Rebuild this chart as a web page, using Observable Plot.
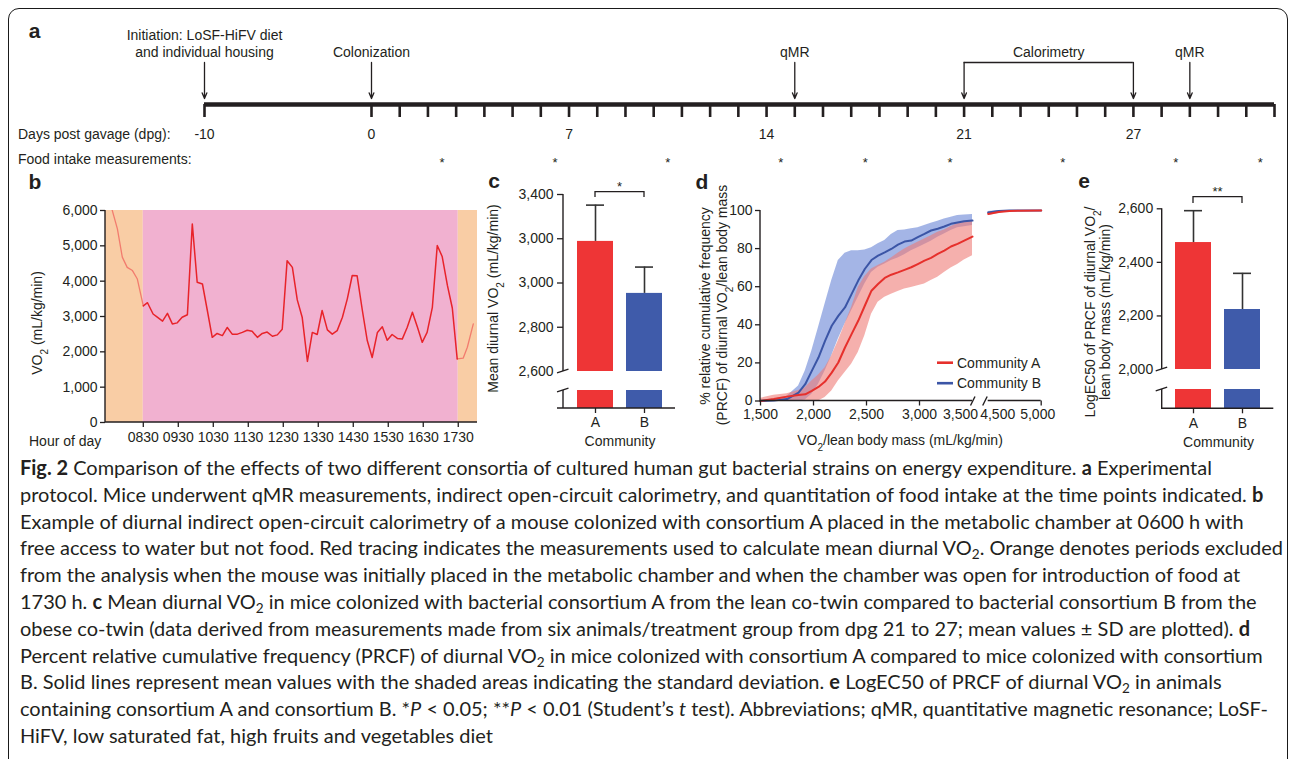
<!DOCTYPE html>
<html>
<head>
<meta charset="utf-8">
<script src="https://cdn.jsdelivr.net/npm/d3@7"></script>
<script src="https://cdn.jsdelivr.net/npm/@observablehq/plot@0.6"></script>
<style>
html, body { margin: 0; padding: 0; background: #fff; }
body { width: 1290px; height: 759px; overflow: hidden; position: relative; color: #231f20; }
#frame { position: absolute; left: 8px; top: 8px; width: 1280px; height: 900px; border: 1.5px solid #1a1a1a; border-radius: 11px; box-sizing: border-box; }
.panel { position: absolute; }
.panel svg { display: block; }
#caption { position: absolute; left: 20px; top: 454px; font-family: Lato, "Open Sans", sans-serif; font-size: 17px; line-height: 26.8px; white-space: nowrap; color: #231f20; }
#caption sub { font-size: 0.68em; vertical-align: -0.3em; line-height: 0; }
#caption b { font-weight: 700; }
</style>
</head>
<body>
<div id="frame"></div>
<div id="pa" class="panel" style="left:0px;top:0px"></div>
<div id="pb" class="panel" style="left:0px;top:170px"></div>
<div id="pc" class="panel" style="left:480px;top:170px"></div>
<div id="pd" class="panel" style="left:690px;top:170px"></div>
<div id="pe" class="panel" style="left:1060px;top:170px"></div>
<div id="caption">
<div class="cl"><b>Fig. 2</b> Comparison of the effects of two different consortia of cultured human gut bacterial strains on energy expenditure. <b>a</b> Experimental</div>
<div class="cl">protocol. Mice underwent qMR measurements, indirect open-circuit calorimetry, and quantitation of food intake at the time points indicated. <b>b</b></div>
<div class="cl">Example of diurnal indirect open-circuit calorimetry of a mouse colonized with consortium A placed in the metabolic chamber at 0600 h with</div>
<div class="cl" id="longest">free access to water but not food. Red tracing indicates the measurements used to calculate mean diurnal VO<sub>2</sub>. Orange denotes periods excluded</div>
<div class="cl">from the analysis when the mouse was initially placed in the metabolic chamber and when the chamber was open for introduction of food at</div>
<div class="cl">1730 h. <b>c</b> Mean diurnal VO<sub>2</sub> in mice colonized with bacterial consortium A from the lean co-twin compared to bacterial consortium B from the</div>
<div class="cl">obese co-twin (data derived from measurements made from six animals/treatment group from dpg 21 to 27; mean values ± SD are plotted). <b>d</b></div>
<div class="cl">Percent relative cumulative frequency (PRCF) of diurnal VO<sub>2</sub> in mice colonized with consortium A compared to mice colonized with consortium</div>
<div class="cl">B. Solid lines represent mean values with the shaded areas indicating the standard deviation. <b>e</b> LogEC50 of PRCF of diurnal VO<sub>2</sub> in animals</div>
<div class="cl">containing consortium A and consortium B. *<i>P</i> &lt; 0.05; **<i>P</i> &lt; 0.01 (Student’s <i>t</i> test). Abbreviations; qMR, quantitative magnetic resonance; LoSF-</div>
<div class="cl">HiFV, low saturated fat, high fruits and vegetables diet</div>
</div>
<script>
// ================= DATA =================
// Panel a: timeline (days post gavage)
const tickDays = [-10, 0, 1, 2, 3, 4, 5, 6, 7, 8, 9, 10, 11, 12, 13, 14, 15, 16, 17, 18, 19, 20, 21, 22, 23, 24, 25, 26, 27, 28, 29, 30, 31, 32];
const dayLabels = [-10, 0, 7, 14, 21, 27];
const eventDays = [-10, 0, 15, 29];
const eventLabels = ["Initiation: LoSF-HiFV diet\nand individual housing", "Colonization", "qMR", "qMR"];
const calorimetryDays = [21, 27];
const foodIntakeDays = [2.5, 6.5, 10.5, 14.5, 17.5, 20.5, 24.5, 28.5, 31.5];

// Panel b: VO2 trace (hour of day, mL/kg/min)
const bPreHour = [7.60, 7.76, 7.90, 8.04, 8.19, 8.33, 8.50];
const bPreVO2 = [6050, 5480, 4680, 4390, 4300, 4060, 3300];
const bHour = [8.50, 8.62, 8.78, 8.90, 9.05, 9.19, 9.33, 9.47, 9.61, 9.76, 9.90, 10.04, 10.19, 10.33, 10.47, 10.61, 10.76, 10.90, 11.04, 11.19, 11.33, 11.47, 11.61, 11.76, 11.90, 12.04, 12.19, 12.33, 12.47, 12.61, 12.76, 12.90, 13.04, 13.19, 13.33, 13.47, 13.61, 13.76, 13.90, 14.04, 14.19, 14.33, 14.47, 14.61, 14.76, 14.90, 15.04, 15.19, 15.33, 15.47, 15.61, 15.76, 15.90, 16.04, 16.19, 16.33, 16.47, 16.61, 16.76, 16.90, 17.04, 17.19, 17.33, 17.47];
const bVO2 = [3300, 3390, 3070, 2980, 2870, 3090, 2790, 2820, 2980, 3050, 5620, 3970, 3920, 3170, 2410, 2520, 2460, 2690, 2500, 2500, 2550, 2610, 2580, 2410, 2520, 2560, 2440, 2480, 2640, 4580, 4390, 3470, 2980, 1730, 2550, 2490, 3170, 2620, 2500, 2600, 2980, 3500, 4160, 4150, 3170, 2320, 1840, 2550, 2710, 2330, 2490, 2380, 2360, 2690, 3120, 2710, 2270, 2550, 3260, 5010, 4700, 3880, 3240, 1800];
const bPostHour = [17.47, 17.64, 17.76, 17.93];
const bPostVO2 = [1800, 1820, 2130, 2790];
const bPeriodStart = [7.42, 8.5, 17.5];
const bPeriodEnd = [8.5, 17.5, 18.05];
const bPeriodKind = ["excluded", "measured", "excluded"];
const bHourTicks = [8.5, 9.5, 10.5, 11.5, 12.5, 13.5, 14.5, 15.5, 16.5, 17.5];
const bHourLabels = ["0830", "0930", "1030", "1130", "1230", "1330", "1430", "1530", "1630", "1730"];
const bVO2Ticks = [0, 1000, 2000, 3000, 4000, 5000, 6000];

// Panel c: mean diurnal VO2
const communities = ["A", "B"];
const cMeanVO2 = [3188, 2953];
const cSdVO2 = [164, 119];
const cTicks = [2600, 2800, 3000, 3200, 3400];
const cTickLabels = ["2,600", "2,800", "3,000", "3,000", "3,400"];

// Panel d: PRCF curves (left segment)
const dX = [1500, 1625, 1750, 1859, 1922, 1984, 2047, 2109, 2172, 2234, 2297, 2359, 2422, 2484, 2547, 2609, 2672, 2734, 2797, 2859, 2922, 2984, 3047, 3109, 3172, 3234, 3297, 3359, 3422, 3500];
const dAMean = [0, 1.0, 2.3, 3.2, 3.5, 5.3, 7.4, 10.2, 14.9, 20.2, 28.1, 35.1, 42.1, 50.0, 57.9, 61.4, 64.6, 66.3, 67.5, 68.8, 70.2, 71.9, 73.7, 75.1, 77.2, 78.9, 81.1, 82.5, 84.2, 86.3];
const dALo = [0, 0, 0, 0, 0, 0, 0, 1.8, 5.3, 10.5, 14.9, 19.3, 25.4, 34.2, 45.6, 51.8, 54.4, 56.1, 57.5, 58.8, 59.6, 60.5, 61.4, 63.2, 64.9, 67.5, 69.8, 71.6, 74.0, 76.3];
const dAHi = [1.4, 3.0, 3.8, 5.5, 7.0, 10.5, 13.7, 17.5, 23.7, 31.6, 40.4, 49.1, 59.6, 65.3, 69.3, 71.1, 72.8, 75.1, 77.5, 79.8, 81.6, 83.3, 85.1, 86.8, 88.6, 89.8, 91.6, 93.0, 94.0, 94.7];
const dBMean = [0, 0.2, 1.0, 4.4, 8.8, 15.8, 22.8, 31.6, 39.5, 44.7, 49.1, 56.1, 63.2, 69.3, 74.0, 76.3, 78.0, 79.8, 82.1, 83.7, 84.2, 86.0, 87.7, 89.5, 90.4, 91.6, 93.0, 93.7, 94.4, 94.7];
const dBLo = [0, 0, 0, 0, 0.5, 3.5, 8.8, 15.8, 23.7, 32.5, 40.4, 47.4, 54.4, 61.4, 67.5, 70.2, 71.9, 73.7, 75.1, 76.8, 78.9, 80.4, 82.1, 83.9, 86.0, 87.7, 89.5, 90.9, 91.5, 92.1];
const dBHi = [0.5, 1.0, 2.5, 7.9, 15.8, 26.3, 38.6, 50.9, 63.2, 73.7, 77.5, 78.9, 78.9, 79.3, 80.4, 82.5, 84.2, 87.4, 89.5, 89.8, 90.4, 90.9, 92.1, 93.3, 94.4, 95.6, 96.5, 97.4, 97.7, 97.9];
// Panel d: right segment after the axis break
const dX2 = [4500, 4600, 4700, 4800, 5000];
const dAMean2 = [98.2, 99.2, 99.7, 99.9, 100];
const dALo2 = [97.3, 98.6, 99.4, 99.8, 100];
const dAHi2 = [99.1, 99.8, 100, 100, 100];
const dBMean2 = [98.9, 99.7, 100, 100, 100];
const dBLo2 = [98.3, 99.4, 99.9, 100, 100];
const dBHi2 = [99.5, 100, 100, 100, 100];
const dYTicks = [0, 20, 40, 60, 80, 100];
const dXTicksLeft = [1500, 2000, 2500, 3000];
const dLegend = ["Community A", "Community B"];

// Panel e: LogEC50
const eMeanEC50 = [2474, 2224];
const eSdEC50 = [119, 135];
const eTicks = [2000, 2200, 2400, 2600];
const eTickLabels = ["2,000", "2,200", "2,400", "2,600"];

// ================= STYLE =================
const INK = "#231f20";
const RED = "#E8232A", LIGHTRED = "#F27C6E";
const PEACH = "#F9CDA5", PINK = "#F1B1D0";
const BAR_RED = "#EE3536", BAR_BLUE = "#3F5BAA";
const D_RED = "#E6302C", D_BLUE = "#3B55A6", D_RED_BAND = "#EF7B76", D_BLUE_BAND = "#7E96DC";
const baseStyle = {fontFamily: '"Liberation Sans", Arial, Helvetica, sans-serif', fontSize: "14px", color: INK, background: "transparent", overflow: "visible"};
const fmt = d3.format(",");

// broken-axis helper: values below the break sit on a short stub, values above keep the linear spacing
function brokenAxis(stubTop, highFrom, stubPx, gapPx, pxPerUnit) {
  const offset = (stubPx + gapPx) / pxPerUnit;
  return v => v >= highFrom ? offset + (v - highFrom) : v * (stubPx / pxPerUnit) / stubTop;
}

// text helper (supports subscripts) drawn as a render-function mark
function txt(x, y, parts, {size = 14, anchor = "middle", rotate = 0, weight = null} = {}) {
  return () => {
    const t = d3.create("svg:text")
      .attr("transform", `translate(${x},${y})` + (rotate ? ` rotate(${rotate})` : ""))
      .attr("text-anchor", anchor).attr("dy", "0.35em")
      .attr("font-size", size).attr("fill", "currentColor");
    if (weight) t.attr("font-weight", weight);
    for (const p of [].concat(parts)) {
      if (typeof p === "string") t.append("tspan").text(p);
      else t.append("tspan").attr("baseline-shift", "sub").attr("font-size", size * 0.72).text(p.sub);
    }
    return t.node();
  };
}
// path helper using the plot's scales
function strokes(fn, width = 1.4) {
  return (index, scales, values, dims) => {
    const g = d3.create("svg:g").attr("fill", "none").attr("stroke", "currentColor").attr("stroke-width", width);
    for (const d of fn(scales, dims)) g.append("path").attr("d", d);
    return g.node();
  };
}
const slash = (x, y) => `M${x - 6},${y + 1.8}L${x + 5.5},${y - 1.8}`;
function sigBracket(a, b, yTop, yLeg, label, labelY) {
  return (index, {x}) => {
    const bw = x.bandwidth ? x.bandwidth() : 0;
    const xa = x(a) + bw / 2, xb = x(b) + bw / 2;
    const g = d3.create("svg:g");
    g.append("path").attr("d", `M${xa},${yLeg}V${yTop}H${xb}V${yLeg}`).attr("fill", "none").attr("stroke", "currentColor").attr("stroke-width", 1.3);
    g.append("text").attr("x", (xa + xb) / 2).attr("y", labelY).attr("dy", "0.35em").attr("text-anchor", "middle").attr("font-size", 13).attr("fill", "currentColor").text(label);
    return g.node();
  };
}

// ================= PANEL A =================
const ROW = {label: 56, bracket: 62, tip: 98, axis: 104, tickEnd: 117, days: 134, food: 159};
const events = eventDays.map((day, i) => ({day, label: eventLabels[i]}));
document.getElementById("pa").append(Plot.plot({
  width: 1290, height: 172, margin: 0, style: baseStyle,
  x: {type: "linear", domain: [-10, 0, 32], range: [204, 371, 1274], axis: null},
  y: {type: "identity", axis: null},
  marks: [
    Plot.ruleY([ROW.axis], {x1: -10, x2: 32, strokeWidth: 4.5, stroke: INK}),
    Plot.ruleX(tickDays, {x: d => d, y1: ROW.axis, y2: ROW.tickEnd, strokeWidth: 2.6, stroke: INK}),
    Plot.ruleY([ROW.bracket], {x1: calorimetryDays[0], x2: calorimetryDays[1], strokeWidth: 1.5, stroke: INK}),
    Plot.arrow([...eventDays, ...calorimetryDays], {x1: d => d, x2: d => d, y1: ROW.bracket, y2: ROW.tip, headLength: 7, headAngle: 45, strokeWidth: 1.3, stroke: INK}),
    Plot.text(events, {x: "day", y: ROW.label, text: "label", lineAnchor: "bottom", lineHeight: 1.15}),
    Plot.text(["Calorimetry"], {x: (calorimetryDays[0] + calorimetryDays[1]) / 2, y: ROW.label, lineAnchor: "bottom"}),
    Plot.text(dayLabels, {x: d => d, y: ROW.days, text: d => String(d)}),
    Plot.text(foodIntakeDays, {x: d => d, y: ROW.food + 3, text: () => "*", fontSize: 13}),
    txt(18, ROW.days, "Days post gavage (dpg):", {anchor: "start"}),
    txt(18, ROW.food, "Food intake measurements:", {anchor: "start"}),
    txt(34.5, 31, "a", {size: 21, weight: "bold"})
  ]
}));

// ================= PANEL B =================
const bPeriods = bPeriodStart.map((s, i) => ({start: s, end: bPeriodEnd[i], kind: bPeriodKind[i]}));
const bPre = bPreHour.map((h, i) => ({h, v: bPreVO2[i]}));
const bMain = bHour.map((h, i) => ({h, v: bVO2[i]}));
const bPost = bPostHour.map((h, i) => ({h, v: bPostVO2[i]}));
const bLabelMap = new Map(bHourTicks.map((t, i) => [t, bHourLabels[i]]));
document.getElementById("pb").append(Plot.plot({
  width: 490, height: 290, marginLeft: 105, marginRight: 13, marginTop: 40, marginBottom: 38, style: baseStyle,
  x: {domain: [7.42, 18.05], axis: null},
  y: {domain: [0, 6000], axis: null},
  color: {domain: ["excluded", "measured"], range: [PEACH, PINK]},
  marks: [
    Plot.rectY(bPeriods, {x1: "start", x2: "end", y1: 0, y2: 6000, fill: "kind"}),
    Plot.line(bPre, {x: "h", y: "v", stroke: LIGHTRED, strokeWidth: 1.3, clip: true}),
    Plot.line(bPost, {x: "h", y: "v", stroke: LIGHTRED, strokeWidth: 1.3}),
    Plot.line(bMain, {x: "h", y: "v", stroke: RED, strokeWidth: 1.5}),
    Plot.axisY(bVO2Ticks, {anchor: "left", tickSize: 5, tickPadding: 3, tickFormat: fmt, label: null, strokeWidth: 1.3}),
    Plot.axisX(bHourTicks, {anchor: "bottom", tickSize: 5, tickPadding: 5, tickFormat: d => bLabelMap.get(d), label: null, strokeWidth: 1.3}),
    strokes(({x, y}) => {
      const [x0, x1] = x.domain(), [y0, y1] = y.domain();
      return [`M${x(x0)},${y(y1)}V${y(y0)}H${x(x1)}`];
    }),
    txt(35, 12, "b", {size: 21, weight: "bold"}),
    txt(37, 153, ["VO", {sub: "2"}, " (mL/kg/min)"], {rotate: -90}),
    txt(29, 271, "Hour of day", {anchor: "start"})
  ]
}));

// ================= PANEL C =================
const cData = communities.map((g, i) => ({group: g, mean: cMeanVO2[i], sd: cSdVO2[i]}));
const cStub = 400, cFrom = 2600;
const cy = brokenAxis(cStub, cFrom, 18, 19, 177 / 800);
const cLabelMap = new Map(cTicks.map((t, i) => [cy(t), cTickLabels[i]]));
document.getElementById("pc").append(Plot.plot({
  width: 210, height: 290, marginLeft: 83, marginRight: 15, marginTop: 24, marginBottom: 52, style: baseStyle,
  x: {domain: communities, padding: 0.27, axis: null},
  y: {domain: [0, cy(3400)], axis: null},
  color: {domain: communities, range: [BAR_RED, BAR_BLUE]},
  marks: [
    Plot.barY(cData, {x: "group", y1: 0, y2: cy(cStub), fill: "group"}),
    Plot.barY(cData, {x: "group", y1: cy(cFrom), y2: d => cy(d.mean), fill: "group"}),
    Plot.ruleX(cData, {x: "group", y1: d => cy(d.mean), y2: d => cy(d.mean + d.sd), stroke: "#333", strokeWidth: 1.6}),
    Plot.tickY(cData, {x: "group", y: d => cy(d.mean + d.sd), insetLeft: 9, insetRight: 9, stroke: "#333", strokeWidth: 1.6}),
    Plot.axisY(cTicks.slice(1).map(cy), {anchor: "left", tickSize: 6, tickPadding: 4, tickFormat: d => cLabelMap.get(d), label: null, strokeWidth: 1.3}),
    Plot.axisY(cTicks.slice(0, 1).map(cy), {anchor: "left", tickSize: 0, tickPadding: 10, tickFormat: d => cLabelMap.get(d), label: null}),
    Plot.axisX({anchor: "bottom", tickSize: 5, tickPadding: 4, label: null, strokeWidth: 1.3}),
    strokes(({y}, {marginLeft, width, marginRight}) => {
      const x0 = marginLeft, x1 = width - marginRight;
      return [`M${x0},${y(cy(3400))}V${y(cy(cFrom))}`, `M${x0},${y(cy(cStub))}V${y(0)}`, `M${x0 - 6},${y(0)}H${x1}`, slash(x0, y(cy(cFrom))), slash(x0, y(cy(cStub)))];
    }),
    sigBracket("A", "B", 21.7, 27, "*", 16),
    txt(14, 11, "c", {size: 21, weight: "bold"}),
    txt(13.3, 128.5, ["Mean diurnal VO", {sub: "2"}, " (mL/kg/min)"], {rotate: -90}),
    txt(140, 271, "Community")
  ]
}));

// ================= PANEL D =================
const dBreakLo = 3500, dBreakHi = 4500, dGapUnits = 148;
const dx = v => v <= dBreakLo ? v : v - dBreakHi + dBreakLo + dGapUnits;
const dRows = [
  ...dX.map((x, i) => ({seg: 1, x: dx(x), a: dAMean[i], aLo: dALo[i], aHi: dAHi[i], b: dBMean[i], bLo: dBLo[i], bHi: dBHi[i]})),
  ...dX2.map((x, i) => ({seg: 2, x: dx(x), a: dAMean2[i], aLo: dALo2[i], aHi: dAHi2[i], b: dBMean2[i], bLo: dBLo2[i], bHi: dBHi2[i]}))
];
const dTickFont = 14;
document.getElementById("pd").append(Plot.plot({
  width: 370, height: 290, marginLeft: 70, marginRight: 19.3, marginTop: 40, marginBottom: 59.5, style: baseStyle,
  x: {domain: [1500, dx(5000)], axis: null},
  y: {domain: [0, 100], axis: null},
  marks: [
    Plot.areaY(dRows, {x: "x", y1: "bLo", y2: "bHi", z: "seg", fill: D_BLUE_BAND, fillOpacity: 0.7}),
    Plot.areaY(dRows, {x: "x", y1: "aLo", y2: "aHi", z: "seg", fill: D_RED_BAND, fillOpacity: 0.6}),
    Plot.line(dRows, {x: "x", y: "b", z: "seg", stroke: D_BLUE, strokeWidth: 2}),
    Plot.line(dRows, {x: "x", y: "a", z: "seg", stroke: D_RED, strokeWidth: 2}),
    Plot.axisY(dYTicks, {anchor: "left", tickSize: 5, tickPadding: 3, label: null, strokeWidth: 1.3}),
    Plot.axisX([...dXTicksLeft, 5000].map(dx), {anchor: "bottom", tickSize: 5, tickFormat: () => "", label: null, strokeWidth: 1.3}),
    Plot.text(dXTicksLeft, {x: d => dx(d), frameAnchor: "bottom", dy: 18, text: d => fmt(d), fontSize: dTickFont}),
    Plot.text([3500], {x: d => dx(d), frameAnchor: "bottom", dy: 18, dx: -12, text: d => fmt(d), fontSize: dTickFont}),
    Plot.text([4500], {x: d => dx(d), frameAnchor: "bottom", dy: 18, dx: 9.5, text: d => fmt(d), fontSize: dTickFont}),
    Plot.text([5000], {x: d => dx(d), frameAnchor: "bottom", dy: 18, dx: -3.5, text: d => fmt(d), fontSize: dTickFont}),
    strokes(({x, y}) => {
      const y0 = y(0), xa = x(dx(dBreakLo)), xb = x(dx(dBreakHi));
      return [`M${x(1500)},${y(100)}V${y0}H${xa}`, `M${xb},${y0}H${x(dx(5000))}`,
        `M${xa - 1.5},${y0 + 5}L${xa + 3},${y0 - 4}`, `M${xb - 5},${y0 + 5}L${xb - 0.5},${y0 - 4}`];
    }),
    () => {
      const g = d3.create("svg:g");
      [D_RED, D_BLUE].forEach((c, i) => {
        const yy = 192.7 + i * 20.5;
        g.append("line").attr("x1", 247).attr("x2", 263).attr("y1", yy).attr("y2", yy).attr("stroke", c).attr("stroke-width", 2.6);
        g.append("text").attr("x", 267).attr("y", yy).attr("dy", "0.35em").attr("text-anchor", "start").attr("font-size", 14).attr("fill", "currentColor").text(dLegend[i]);
      });
      return g.node();
    },
    txt(12, 12, "d", {size: 21, weight: "bold"}),
    txt(15, 136, "% relative cumulative frequency", {rotate: -90}),
    txt(32, 135, ["(PRCF) of diurnal VO", {sub: "2"}, "/lean body mass"], {rotate: -90}),
    txt(210, 270, ["VO", {sub: "2"}, "/lean body mass (mL/kg/min)"])
  ]
}));

// ================= PANEL E =================
const eData = communities.map((g, i) => ({group: g, mean: eMeanEC50[i], sd: eSdEC50[i]}));
const eStub = 400, eFrom = 2000;
const ey = brokenAxis(eStub, eFrom, 19.3, 20, 160.7 / 600);
const eLabelMap = new Map(eTicks.map((t, i) => [ey(t), eTickLabels[i]]));
document.getElementById("pe").append(Plot.plot({
  width: 230, height: 290, marginLeft: 101.7, marginRight: 16.7, marginTop: 38.3, marginBottom: 51.7, style: baseStyle,
  x: {domain: communities, padding: 0.27, axis: null},
  y: {domain: [0, ey(2600)], axis: null},
  color: {domain: communities, range: [BAR_RED, BAR_BLUE]},
  marks: [
    Plot.barY(eData, {x: "group", y1: 0, y2: ey(eStub), fill: "group"}),
    Plot.barY(eData, {x: "group", y1: ey(eFrom), y2: d => ey(d.mean), fill: "group"}),
    Plot.ruleX(eData, {x: "group", y1: d => ey(d.mean), y2: d => ey(d.mean + d.sd), stroke: "#333", strokeWidth: 1.6}),
    Plot.tickY(eData, {x: "group", y: d => ey(d.mean + d.sd), insetLeft: 9, insetRight: 9, stroke: "#333", strokeWidth: 1.6}),
    Plot.axisY(eTicks.slice(1).map(ey), {anchor: "left", tickSize: 5, tickPadding: 4, tickFormat: d => eLabelMap.get(d), label: null, strokeWidth: 1.3}),
    Plot.axisY(eTicks.slice(0, 1).map(ey), {anchor: "left", tickSize: 0, tickPadding: 9, tickFormat: d => eLabelMap.get(d), label: null}),
    Plot.axisX({anchor: "bottom", tickSize: 5, tickPadding: 4, label: null, strokeWidth: 1.3}),
    strokes(({y}, {marginLeft, width, marginRight}) => {
      const x0 = marginLeft, x1 = width - marginRight;
      return [`M${x0},${y(ey(2600))}V${y(ey(eFrom))}`, `M${x0},${y(ey(eStub))}V${y(0)}H${x1}`, slash(x0, y(ey(eFrom))), slash(x0, y(ey(eStub)))];
    }),
    sigBracket("A", "B", 26.7, 33, "**", 21),
    txt(24, 11, "e", {size: 21, weight: "bold"}),
    txt(30, 142, ["LogEC50 of PRCF of diurnal VO", {sub: "2"}, "/"], {rotate: -90}),
    txt(45, 142, "lean body mass (mL/kg/min)", {rotate: -90}),
    txt(158.5, 271.7, "Community")
  ]
}));

// ================= CAPTION fit =================
function fitCaption() {
  const cap = document.getElementById("caption");
  const line = document.getElementById("longest");
  let span = line.querySelector("span.meas");
  if (!span) {
    span = document.createElement("span");
    span.className = "meas";
    span.innerHTML = line.innerHTML;
    line.innerHTML = "";
    line.appendChild(span);
  }
  const w = span.getBoundingClientRect().width;
  const fs = parseFloat(getComputedStyle(cap).fontSize);
  if (w > 0) cap.style.fontSize = Math.max(14, Math.min(20, fs * 1263 / w)) + "px";
}
fitCaption();
if (document.fonts && document.fonts.ready) document.fonts.ready.then(fitCaption);
</script>
</body>
</html>
